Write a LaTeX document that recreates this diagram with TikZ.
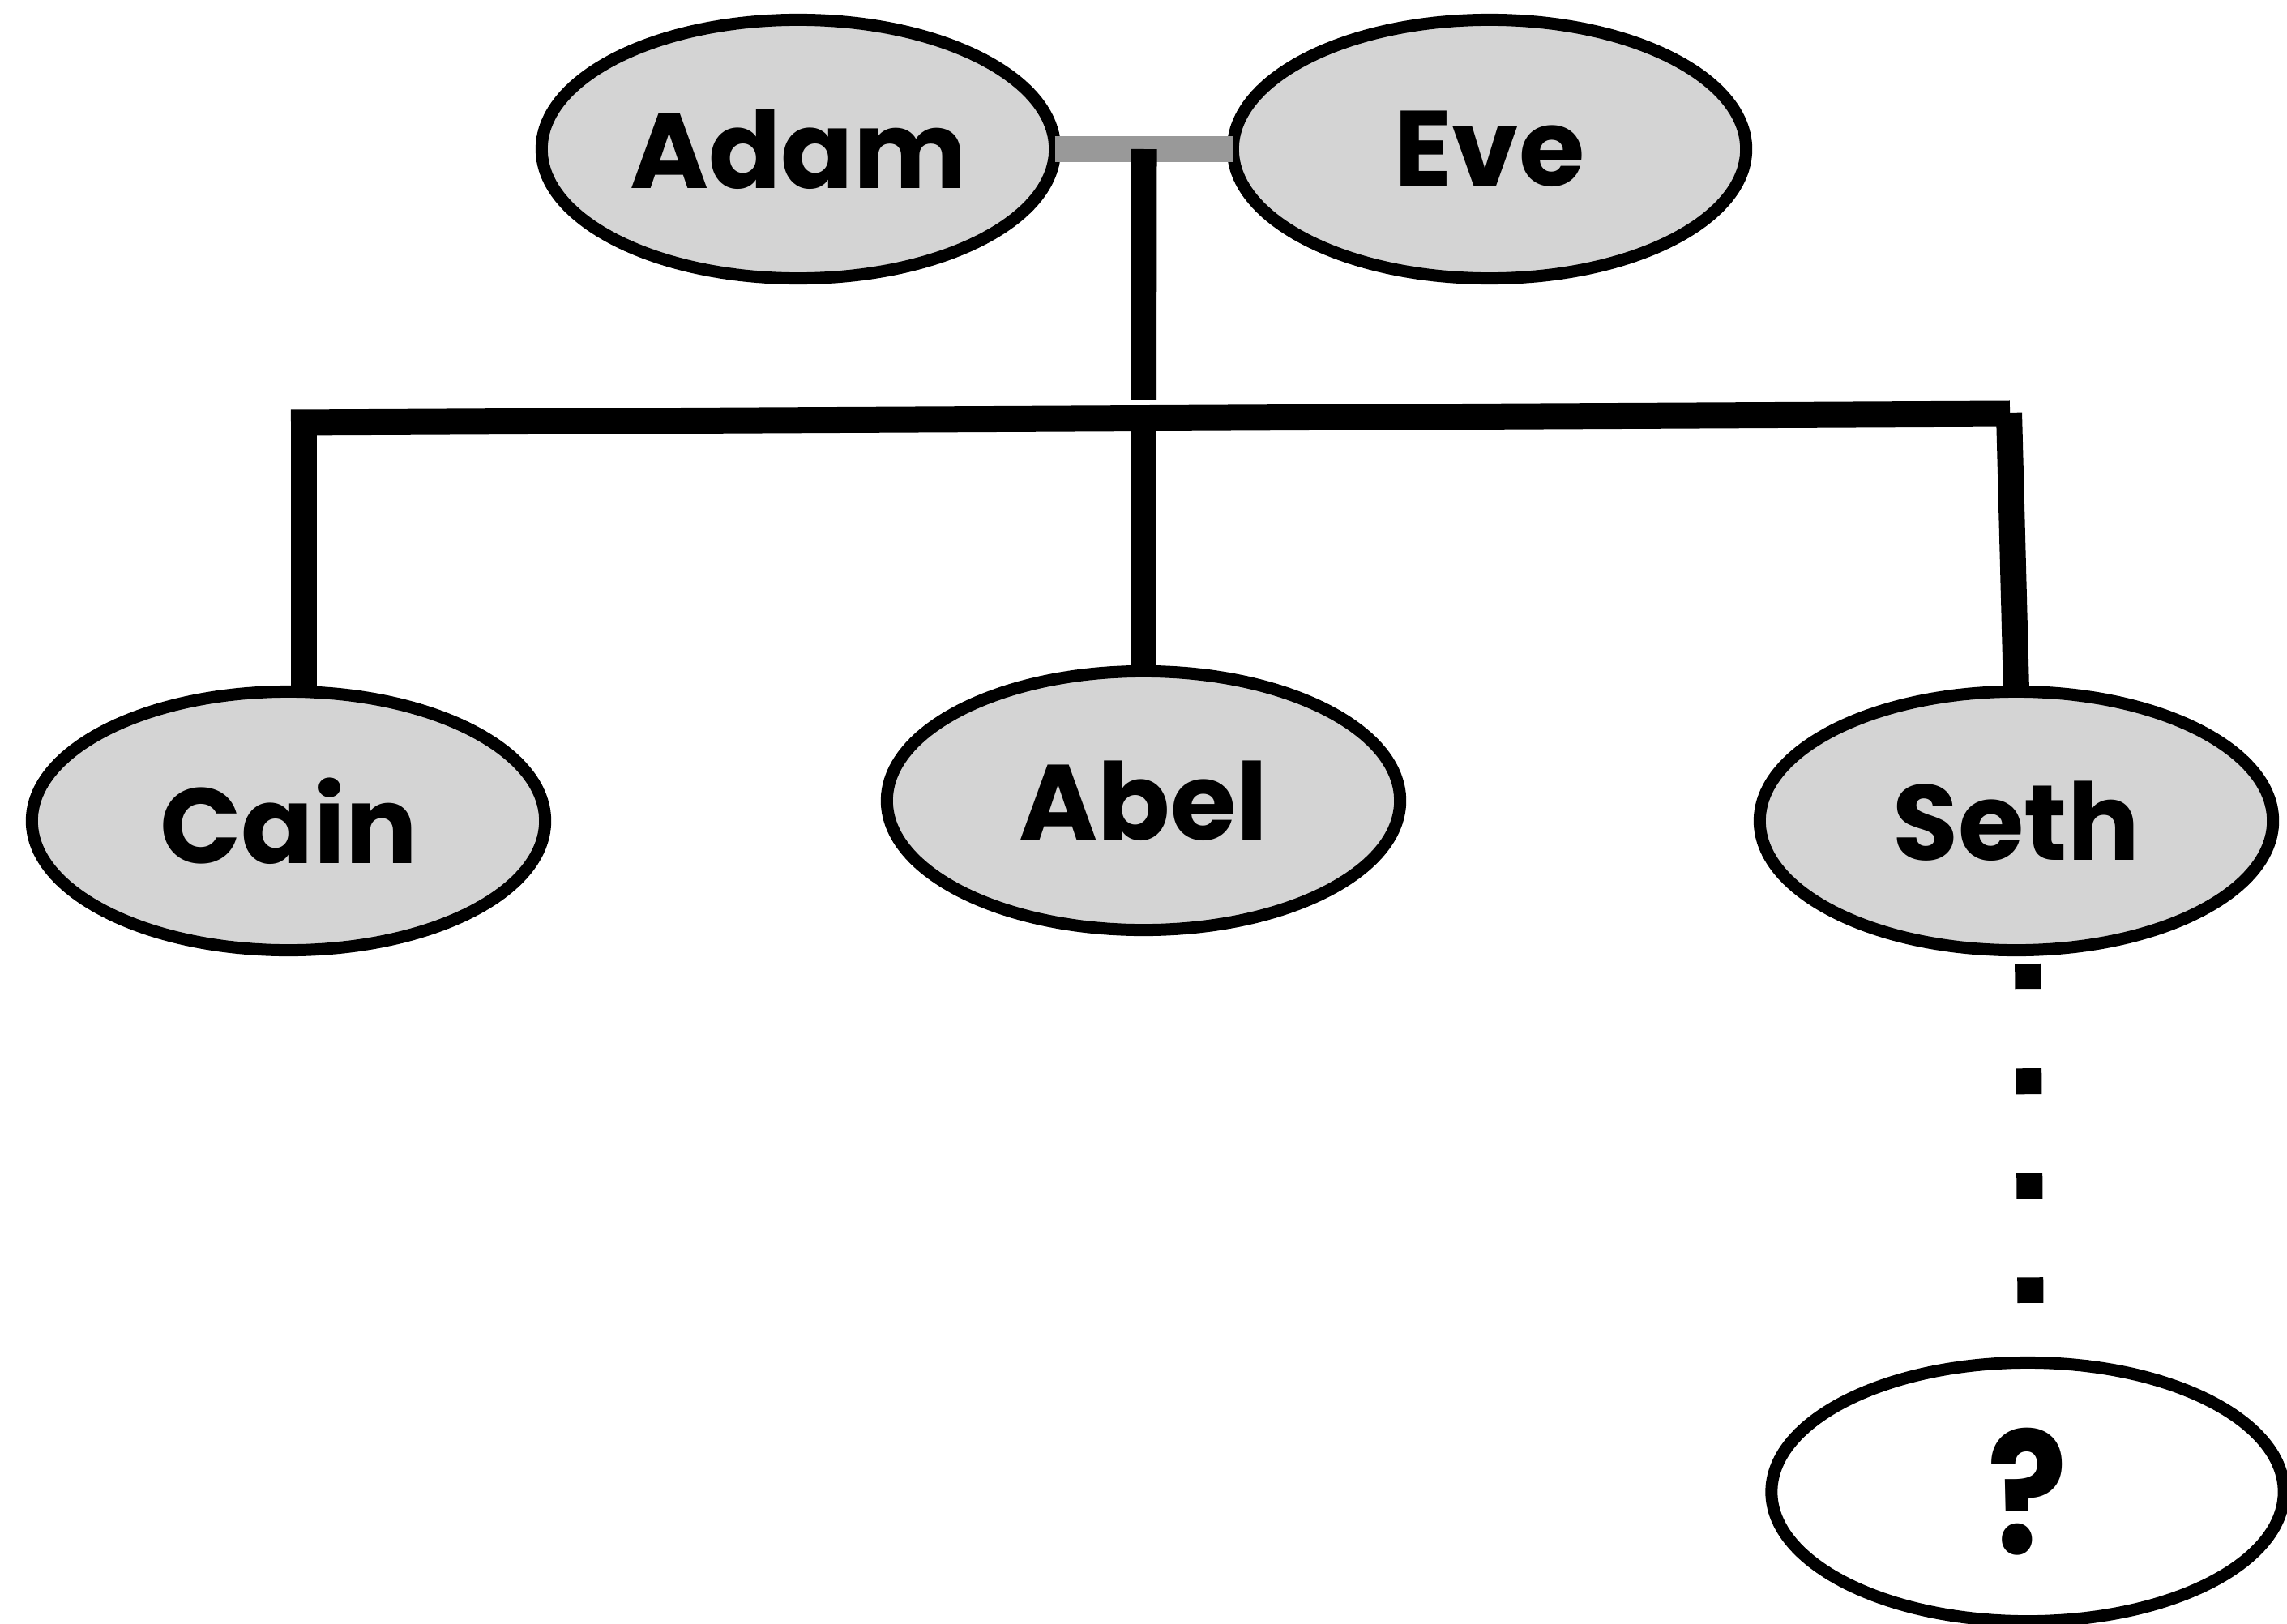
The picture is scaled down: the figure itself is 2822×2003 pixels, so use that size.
\documentclass[tikz,border=0pt]{standalone}
\usepackage{fontspec}
\usepackage{graphicx}
\setmainfont{Poppins}
\usetikzlibrary{shapes.geometric,calc}
\definecolor{fillgray}{HTML}{D4D4D4}
\definecolor{bargray}{HTML}{999999}
\begin{document}
\begin{tikzpicture}[x=0.01cm,y=-0.01cm,
  person/.style={ellipse,draw=black,line width=0.15cm,fill=fillgray,minimum width=6.33cm,minimum height=3.19cm,inner sep=0pt,outer sep=0pt,font=\bfseries\fontsize{37.5}{40}\selectfont},
  unknown/.style={person,fill=white,minimum width=6.32cm},
  link/.style={line width=0.32cm,line cap=butt,draw=black},
  couple/.style={line width=0.32cm,line cap=butt,draw=bargray},
  descent/.style={link,dash pattern=on 0.32cm off 0.97cm}]
\useasboundingbox (0,0) rectangle (2822,2003);
\clip (0,0) rectangle (2822,2003);
% people
\node[person] (adam) at (985,184) {Adam};
\node[person] (eve) at (1838,184) {Eve};
\node[person] (cain) at (356,1013) {Cain};
\node[person] (abel) at (1411,988) {Abel};
\node[person] (seth) at (2488,1013) {Seth};
\node[unknown] (q) at (2502,1841) {\scalebox{1.39}[1.59]{?}};
% junction points
\coordinate (mid) at ($(adam.east)!0.5!(eve.west)$);
\coordinate (drop) at (1411,493);
\coordinate (hl) at (359,521.5);
\coordinate (hr) at (2480,510.5);
\coordinate (cl) at (375,537);
\coordinate (ab) at (1411,508);
\coordinate (sr) at (2479,510);
% connectors
\draw[couple] (adam.east) -- (eve.west);
\draw[link] (mid) -- (drop);
\draw[link] (hl) -- (hr);
\draw[link] (cl) -- (cl |- cain.north);
\draw[link] (ab) -- (abel.north);
\draw[link] (sr) -- (seth.north);
\draw[descent,shorten <=0.165cm,shorten >=0.735cm] ([xshift=0.14cm]seth.south) -- ([xshift=0.04cm]q.north);
\end{tikzpicture}
\end{document}
